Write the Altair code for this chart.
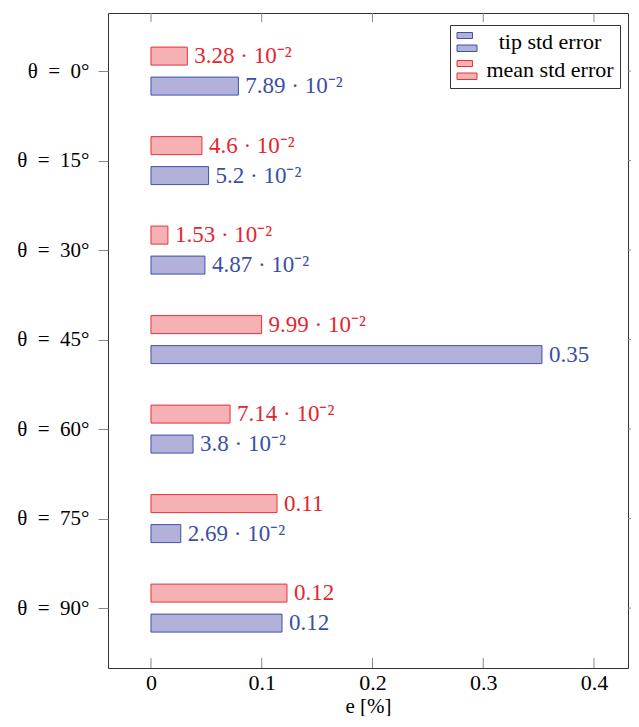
import altair as alt
import pandas as pd

# ---- data ----
angles = [0, 15, 30, 45, 60, 75, 90]
tip_err = [0.0789, 0.052, 0.0487, 0.353, 0.038, 0.0269, 0.1183]
mean_err = [0.0328, 0.046, 0.0153, 0.0999, 0.0714, 0.1138, 0.1228]
tip_labels = ["7.89 · 10⁻²", "5.2 · 10⁻²", "4.87 · 10⁻²", "0.35",
              "3.8 · 10⁻²", "2.69 · 10⁻²", "0.12"]
mean_labels = ["3.28 · 10⁻²", "4.6 · 10⁻²", "1.53 · 10⁻²", "9.99 · 10⁻²",
               "7.14 · 10⁻²", "0.11", "0.12"]
x_ticks = [0, 0.1, 0.2, 0.3, 0.4]
series_names = ["tip std error", "mean std error"]

# ---- styles ----
FONT = "Liberation Serif"
AXFONT = "'Liberation Serif', 'DejaVu Serif', serif"
fill_colors = ["#b1b1d9", "#f5b1b4"]
stroke_colors = ["#3f51a9", "#e8313b"]
text_colors = {"tip std error": "#3a4ea6", "mean std error": "#e42530"}
W, H = 520, 655

rows = []
for a, v, l in zip(angles, tip_err, tip_labels):
    rows.append(dict(angle=a, value=v, label=l, series="tip std error"))
for a, v, l in zip(angles, mean_err, mean_labels):
    rows.append(dict(angle=a, value=v, label=l, series="mean std error"))
df = pd.DataFrame(rows)
xt = pd.DataFrame({"t": x_ticks})
yt = pd.DataFrame({"angle": angles})

xscale = alt.Scale(domain=[-0.0388, 0.4307], nice=False, zero=False)
yscale = alt.Scale(domain=[-8.9, 99.2], nice=False, zero=False, reverse=True)

x_axis = alt.Axis(values=x_ticks,
                  labelExpr="datum.value == 0 ? '0' : format(datum.value, '.1f')",
                  ticks=False, domain=False, grid=False, labelPadding=4,
                  title="e [%]", titleBaseline="alphabetic", titleY=44,
                  labelFont=AXFONT, titleFont=AXFONT,
                  labelFontSize=22, titleFontSize=21, labelColor="black",
                  titleColor="black", titleFontWeight="normal")
y_axis = alt.Axis(values=angles,
                  labelExpr="'θ\u2002=\u2002' + datum.value + '°'",
                  tickSize=10, tickColor="#888888", tickWidth=1, domain=False,
                  grid=False, labelPadding=9, title=None, labelFont=AXFONT,
                  labelFontSize=21, labelColor="black")

legend = alt.Legend(orient="none", legendX=342, legendY=12, title=None,
                    symbolType="M-1,-0.95H0.55V-0.35H-1Z M-1,0.3H1V0.95H-1Z",
                    symbolSize=400, symbolStrokeWidth=1, labelFont=FONT,
                    labelFontSize=22, labelColor="black", labelAlign="center",
                    labelOffset=72, strokeColor="#333333", fillColor="white",
                    padding=6, rowPadding=4, labelLimit=300)
fill_enc = alt.Fill("series:N", scale=alt.Scale(domain=series_names, range=fill_colors),
                    legend=legend, title=None)
stroke_enc = alt.Stroke("series:N", scale=alt.Scale(domain=series_names, range=stroke_colors),
                        legend=legend, title=None)

X = alt.X("value:Q", scale=xscale, axis=x_axis)
Y = alt.Y("angle:Q", scale=yscale, axis=y_axis)


def bars(name, off):
    return alt.Chart(df).transform_filter(alt.datum.series == name).mark_bar(
        size=18, yOffset=off, strokeWidth=1
    ).encode(x=X, x2=alt.datum(0), y=Y, fill=fill_enc, stroke=stroke_enc)


def texts(name, off):
    return alt.Chart(df).transform_filter(alt.datum.series == name).mark_text(
        align="left", baseline="middle", dx=7, yOffset=off, font=FONT,
        fontSize=23, color=text_colors[name]
    ).encode(x=X, y=Y, text="label:N")


top_ticks = alt.Chart(xt).mark_rule(color="#888888", strokeWidth=1).encode(
    x=alt.X("t:Q", scale=xscale, axis=x_axis), y=alt.value(0), y2=alt.value(9))
bot_ticks = alt.Chart(xt).mark_rule(color="#888888", strokeWidth=1).encode(
    x=alt.X("t:Q", scale=xscale, axis=x_axis), y=alt.value(H - 10), y2=alt.value(H))
right_ticks = alt.Chart(yt).mark_rule(color="#888888", strokeWidth=1).encode(
    y=alt.Y("angle:Q", scale=yscale, axis=y_axis), x=alt.value(W), x2=alt.value(W + 10))

chart = alt.layer(
    top_ticks, bot_ticks, right_ticks,
    bars("mean std error", -15), bars("tip std error", 15),
    texts("mean std error", -15), texts("tip std error", 15),
).properties(
    width=W, height=H,
    autosize=alt.AutoSizeParams(type="none"),
    padding={"left": 100, "top": 5, "right": 3, "bottom": 48},
).configure(
    background="white", font=FONT,
    style={"guide-label": {"font": AXFONT}, "guide-title": {"font": AXFONT}},
).configure_view(
    stroke="#333333", strokeWidth=1
).configure_axis(
    labelFont=AXFONT, titleFont=AXFONT
).configure_legend(
    labelFont=FONT
)

chart.save("out.html", embed_options={"renderer": "svg", "actions": False})
